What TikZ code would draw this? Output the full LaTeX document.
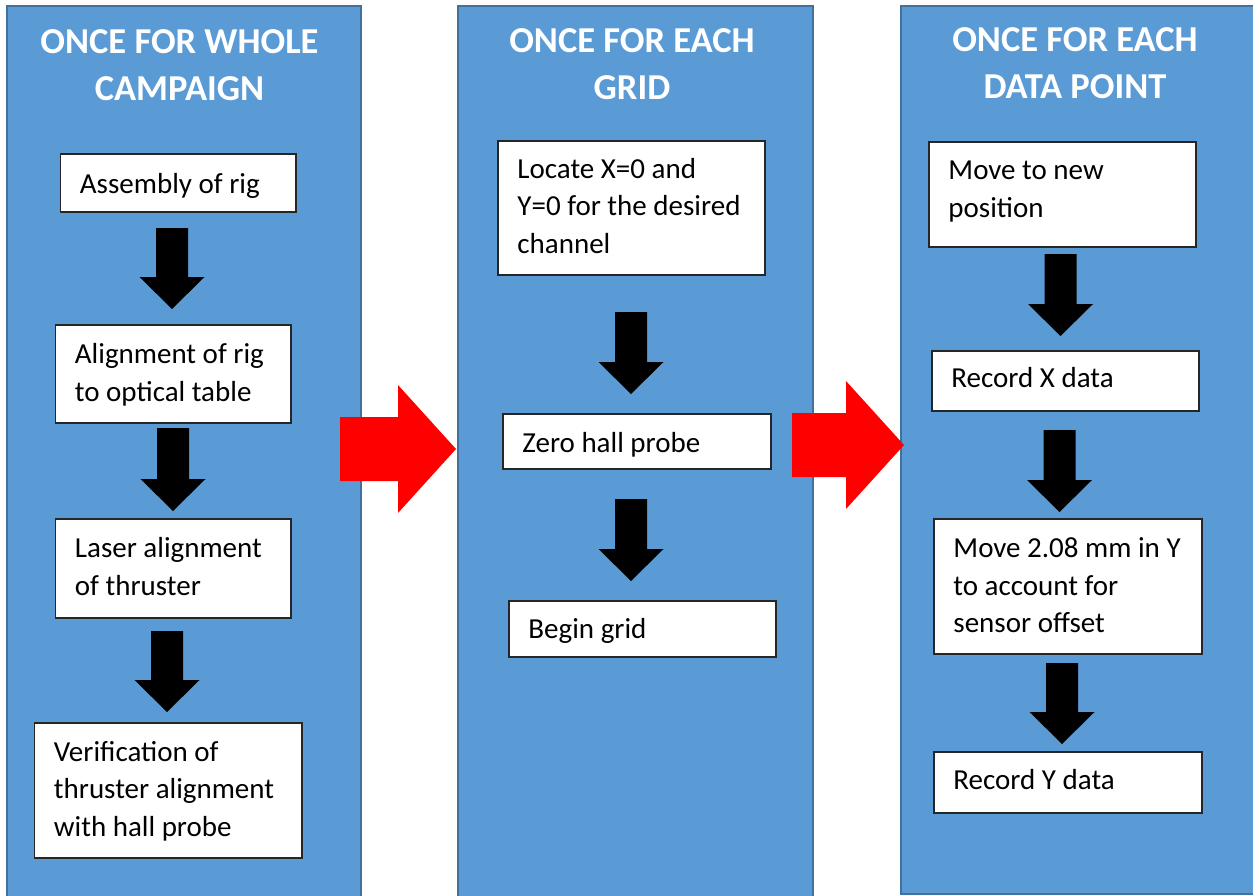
\documentclass[tikz,border=0pt]{standalone}
\usepackage{fontspec}
\setmainfont{Carlito}
\usetikzlibrary{calc,fit}
\definecolor{panelblue}{RGB}{91,155,213}
\definecolor{paneledge}{RGB}{65,113,156}
\definecolor{boxedge}{RGB}{38,38,38}
\definecolor{flowred}{RGB}{255,0,0}
\tikzset{
  panel/.style={draw=paneledge,fill=panelblue,line width=2pt,inner sep=0pt},
  stepbox/.style={draw=boxedge,fill=white,line width=1.5pt,inner sep=0pt},
  steptext/.style={anchor=base west,inner sep=0pt,align=left,
    font=\fontsize{29}{37.5}\selectfont},
  title/.style={anchor=base,inner sep=0pt,align=center,text=white,
    font=\fontsize{36.5}{47}\selectfont\bfseries},
}
% block arrows between two named coordinates
\newcommand\flowdown[2]{%
  \fill[black] let \p1=(#1),\p2=(#2) in
    (\x1-16pt,\y1) -- (\x1+16pt,\y1) -- (\x1+16pt,\y2+32pt) -- (\x1+32.5pt,\y2+32pt)
    -- (\x2,\y2) -- (\x1-32.5pt,\y2+32pt) -- (\x1-16pt,\y2+32pt) -- cycle;}
\newcommand\flowright[2]{%
  \fill[flowred] let \p1=(#1),\p2=(#2) in
    (\x1,\y1+32pt) -- (\x2-58pt,\y1+32pt) -- (\x2-58pt,\y1+64pt) -- (\x2,\y2)
    -- (\x2-58pt,\y1-64pt) -- (\x2-58pt,\y1-32pt) -- (\x1,\y1-32pt) -- cycle;}
\begin{document}
\begin{tikzpicture}[x=1pt,y=-1pt]
  \useasboundingbox (0,0) rectangle (1253,895);
  % panels (base of a text is its last line)
  \node[panel,fit={(7,6) (361,898)}] (whole) {};
  \node[panel,fit={(458,6) (813,898)}] (grid) {};
  \node[panel,fit={(901,6) (1260,894)}] (point) {};
  \node[title] (twhole) at (179.5,100) {ONCE FOR WHOLE\\CAMPAIGN};
  \node[title] (tgrid) at (632,99.3) {ONCE FOR EACH\\GRID};
  \node[title] (tpoint) at (1075,98) {ONCE FOR EACH\\DATA POINT};

  % campaign steps
  \node[stepbox,fit={(60.5,154) (296,212)}] (asm) {};
  \node[stepbox,fit={(55.5,325) (291,423)}] (rig) {};
  \node[stepbox,fit={(55.5,519) (291,618)}] (laser) {};
  \node[stepbox,fit={(34.5,723) (302,858)}] (verify) {};
  \node[steptext] (asmt) at ([shift={(20,40.5)}]asm.north west) {Assembly of rig};
  \node[steptext] (rigt) at ([shift={(20,77)}]rig.north west) {Alignment of rig\\to optical table};
  \node[steptext] (lasert) at ([shift={(20,77)}]laser.north west) {Laser alignment\\of thruster};
  \node[steptext] (verifyt) at ([shift={(20,114)}]verify.north west) {Verification of\\thruster alignment\\with hall probe};

  % grid steps
  \node[stepbox,fit={(498,141) (765,275)}] (locate) {};
  \node[stepbox,fit={(503,414) (771,469)}] (zero) {};
  \node[stepbox,fit={(509,601) (776,657)}] (begin) {};
  \node[steptext] (locatet) at ([shift={(20,113)}]locate.north west) {Locate X=0 and\\Y=0 for the desired\\channel};
  \node[steptext] (zerot) at ([shift={(20,39.5)}]zero.north west) {Zero hall probe};
  \node[steptext] (begint) at ([shift={(20,38.5)}]begin.north west) {Begin grid};

  % data point steps
  \node[stepbox,fit={(929,142) (1196,247)}] (move) {};
  \node[stepbox,fit={(932,351) (1199,411)}] (recx) {};
  \node[stepbox,fit={(934,519) (1202,654)}] (offset) {};
  \node[stepbox,fit={(934,752) (1202,813)}] (recy) {};
  \node[steptext] (movet) at ([shift={(20,76)}]move.north west) {Move to new\\position};
  \node[steptext] (recxt) at ([shift={(20,37.5)}]recx.north west) {Record X data};
  \node[steptext] (offsett) at ([shift={(20,114.5)}]offset.north west) {Move 2.08 mm in Y\\to account for\\sensor offset};
  \node[steptext] (recyt) at ([shift={(20,38.5)}]recy.north west) {Record Y data};

  % arrow ends
  \coordinate (a1) at (172,228);  \coordinate (a1e) at (172,309);
  \coordinate (a2) at (173,428);  \coordinate (a2e) at (173,511);
  \coordinate (a3) at (167,631);  \coordinate (a3e) at (167,712);
  \coordinate (b1) at (631,312);  \coordinate (b1e) at (631,394);
  \coordinate (b2) at (631,499);  \coordinate (b2e) at (631,581);
  \coordinate (c1) at (1060.5,254); \coordinate (c1e) at (1060.5,336);
  \coordinate (c2) at (1059.5,430); \coordinate (c2e) at (1059.5,512);
  \coordinate (c3) at (1062,663); \coordinate (c3e) at (1062,744);
  \coordinate (r1) at (340,449);  \coordinate (r1e) at (456,449);
  \coordinate (r2) at (792,445);  \coordinate (r2e) at (904,445);

  \flowdown{a1}{a1e} \flowdown{a2}{a2e} \flowdown{a3}{a3e}
  \flowdown{b1}{b1e} \flowdown{b2}{b2e}
  \flowdown{c1}{c1e} \flowdown{c2}{c2e} \flowdown{c3}{c3e}
  \flowright{r1}{r1e} \flowright{r2}{r2e}
\end{tikzpicture}
\end{document}
